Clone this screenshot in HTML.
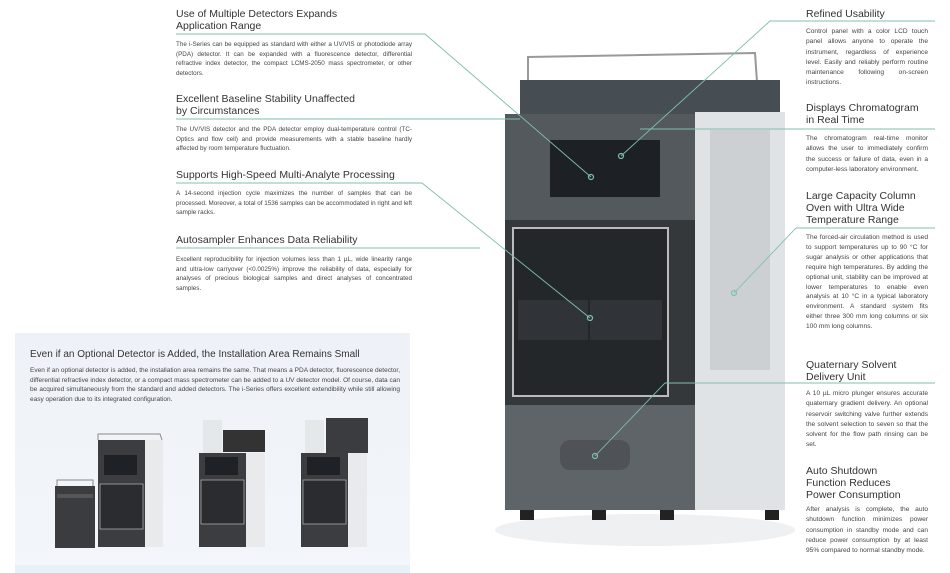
<!DOCTYPE html>
<html><head><meta charset="utf-8"><style>
*{margin:0;padding:0;box-sizing:border-box}
body{width:950px;height:573px;background:#fff;position:relative;overflow:hidden;font-family:"Liberation Sans",sans-serif;color:#333}
.h{position:absolute;font-size:10.5px;line-height:12px;color:#333}
.p{position:absolute;font-size:6.3px;line-height:9.7px;color:#444;text-align:justify}
.r{font-size:6.6px;line-height:10.3px}
.a{position:absolute}
</style></head><body>
<div class="h" style="left:176px;top:8px;width:260px">Use of Multiple Detectors Expands<br>Application Range</div>
<div class="p" style="left:176px;top:40px;width:236px">The i-Series can be equipped as standard with either a UV/VIS or photodiode array (PDA) detector. It can be expanded with a fluorescence detector, differential refractive index detector, the compact LCMS-2050 mass spectrometer, or other detectors.</div>
<div class="h" style="left:176px;top:93px;width:260px">Excellent Baseline Stability Unaffected<br>by Circumstances</div>
<div class="p" style="left:176px;top:125px;width:236px">The UV/VIS detector and the PDA detector employ dual-temperature control (TC-Optics and flow cell) and provide measurements with a stable baseline hardly affected by room temperature fluctuation.</div>
<div class="h" style="left:176px;top:169px;width:280px">Supports High-Speed Multi-Analyte Processing</div>
<div class="p" style="left:176px;top:189px;width:236px">A 14-second injection cycle maximizes the number of samples that can be processed. Moreover, a total of 1536 samples can be accommodated in right and left sample racks.</div>
<div class="h" style="left:176px;top:234px;width:260px">Autosampler Enhances Data Reliability</div>
<div class="p" style="left:176px;top:255px;width:236px">Excellent reproducibility for injection volumes less than 1 µL, wide linearity range and ultra-low carryover (&lt;0.0025%) improve the reliability of data, especially for analyses of precious biological samples and direct analyses of concentrated samples.</div>

<div class="h" style="left:806px;top:8px">Refined Usability</div>
<div class="p r" style="left:806px;top:27px;width:122px">Control panel with a color LCD touch panel allows anyone to operate the instrument, regardless of experience level. Easily and reliably perform routine maintenance following on-screen instructions.</div>
<div class="h" style="left:806px;top:102px">Displays Chromatogram<br>in Real Time</div>
<div class="p r" style="left:806px;top:134px;width:122px">The chromatogram real-time monitor allows the user to immediately confirm the success or failure of data, even in a computer-less laboratory environment.</div>
<div class="h" style="left:806px;top:190px">Large Capacity Column<br>Oven with Ultra Wide<br>Temperature Range</div>
<div class="p r" style="left:806px;top:233px;width:122px;line-height:9.9px">The forced-air circulation method is used to support temperatures up to 90 °C for sugar analysis or other applications that require high temperatures. By adding the optional unit, stability can be improved at lower temperatures to enable even analysis at 10 °C in a typical laboratory environment. A standard system fits either three 300 mm long columns or six 100 mm long columns.</div>
<div class="h" style="left:806px;top:359px">Quaternary Solvent<br>Delivery Unit</div>
<div class="p r" style="left:806px;top:389px;width:122px">A 10 µL micro plunger ensures accurate quaternary gradient delivery. An optional reservoir switching valve further extends the solvent selection to seven so that the solvent for the flow path rinsing can be set.</div>
<div class="h" style="left:806px;top:465px">Auto Shutdown<br>Function Reduces<br>Power Consumption</div>
<div class="p r" style="left:806px;top:505px;width:122px">After analysis is complete, the auto shutdown function minimizes power consumption in standby mode and can reduce power consumption by at least 95% compared to normal standby mode.</div>

<div class="a" style="left:15px;top:333px;width:395px;height:240px;background:linear-gradient(#eef2f8,#f3f6fa)"></div>
<div class="a" style="left:15px;top:565px;width:395px;height:8px;background:#e8f1f8"></div>
<div class="h" style="left:30px;top:349px;font-size:10px;width:380px">Even if an Optional Detector is Added, the Installation Area Remains Small</div>
<div class="p" style="left:30px;top:366px;width:370px;font-size:6.5px">Even if an optional detector is added, the installation area remains the same. That means a PDA detector, fluorescence detector, differential refractive index detector, or a compact mass spectrometer can be added to a UV detector model. Of course, data can be acquired simultaneously from the standard and added detectors. The i-Series offers excellent extendibility while still allowing easy operation due to its integrated configuration.</div>
<svg class="a" style="left:0;top:0" width="950" height="573">
 <g>
  <rect x="55" y="486" width="40" height="62" fill="#3a3c3f"/><rect x="57" y="494" width="36" height="4" fill="#555"/><path d="M57 486 L57 480 L93 480 L93 486" fill="none" stroke="#888"/>
  <path d="M98 440 L98 434 L160 434 L162 440" fill="none" stroke="#888"/>
  <rect x="98" y="440" width="47" height="107" fill="#3b3d40"/><rect x="145" y="440" width="18" height="107" fill="#e8eaec"/>
  <rect x="104" y="455" width="33" height="20" fill="#1e2125"/><rect x="100" y="484" width="43" height="45" fill="#2a2c2f" stroke="#aaa" stroke-width="0.8"/>
  <rect x="223" y="430" width="42" height="22" fill="#333"/><rect x="203" y="420" width="19" height="33" fill="#e4e8ea"/>
  <rect x="199" y="453" width="47" height="94" fill="#3b3d40"/><rect x="246" y="453" width="19" height="94" fill="#e8eaec"/>
  <rect x="205" y="457" width="33" height="18" fill="#1e2125"/><rect x="201" y="480" width="43" height="44" fill="#2a2c2f" stroke="#aaa" stroke-width="0.8"/>
  <rect x="326" y="418" width="42" height="35" fill="#3a3c3f"/><rect x="305" y="420" width="19" height="33" fill="#e4e8ea"/>
  <rect x="301" y="453" width="47" height="94" fill="#3b3d40"/><rect x="348" y="453" width="19" height="94" fill="#e8eaec"/>
  <rect x="307" y="457" width="33" height="18" fill="#1e2125"/><rect x="303" y="480" width="43" height="44" fill="#2a2c2f" stroke="#aaa" stroke-width="0.8"/>
 </g>
 <ellipse cx="645" cy="530" rx="150" ry="16" fill="#eef0f2"/>
 <path d="M528 83 L528 57 L755 53 L757 82" fill="none" stroke="#999" stroke-width="2"/>
 <rect x="520" y="80" width="260" height="40" fill="#464d53"/>
 <rect x="505" y="114" width="197" height="106" fill="#54595e"/>
 <rect x="550" y="140" width="110" height="57" fill="#1d2024"/>
 <rect x="505" y="220" width="197" height="185" fill="#35383b"/>
 <rect x="513" y="228" width="155" height="168" fill="#23272a" stroke="#bbb" stroke-width="2"/>
 <rect x="518" y="300" width="70" height="40" fill="#303438"/><rect x="590" y="300" width="72" height="40" fill="#303438"/>
 <rect x="505" y="405" width="197" height="105" fill="#5f6468"/>
 <rect x="560" y="440" width="70" height="30" rx="10" fill="#4f5357"/>
 <rect x="695" y="112" width="90" height="398" fill="#e0e3e5"/>
 <rect x="710" y="130" width="60" height="240" fill="#ccd0d3"/>
 <rect x="520" y="510" width="14" height="10" fill="#222"/><rect x="592" y="510" width="14" height="10" fill="#222"/><rect x="660" y="510" width="14" height="10" fill="#222"/><rect x="765" y="510" width="14" height="10" fill="#222"/>
 <g stroke="#7fbfb0" stroke-width="0.9" fill="none">
  <path d="M176 34 L425 34 L591 177"/>
  <path d="M176 119 L520 119"/>
  <path d="M176 183 L422 183 L590 318"/>
  <path d="M176 248 L480 248"/>
  <path d="M935 21 L770 21 L621 156"/>
  <path d="M935 129 L640 129"/>
  <path d="M935 228 L796 228 L734 293"/>
  <path d="M935 383 L665 383 L595 456"/>
 </g>
 <g fill="none" stroke="#7fbfb0" stroke-width="1.2"><circle cx="591" cy="177" r="2.5"/><circle cx="621" cy="156" r="2.5"/><circle cx="590" cy="318" r="2.5"/><circle cx="734" cy="293" r="2.5"/><circle cx="595" cy="456" r="2.5"/></g>
</svg>
</body></html>
